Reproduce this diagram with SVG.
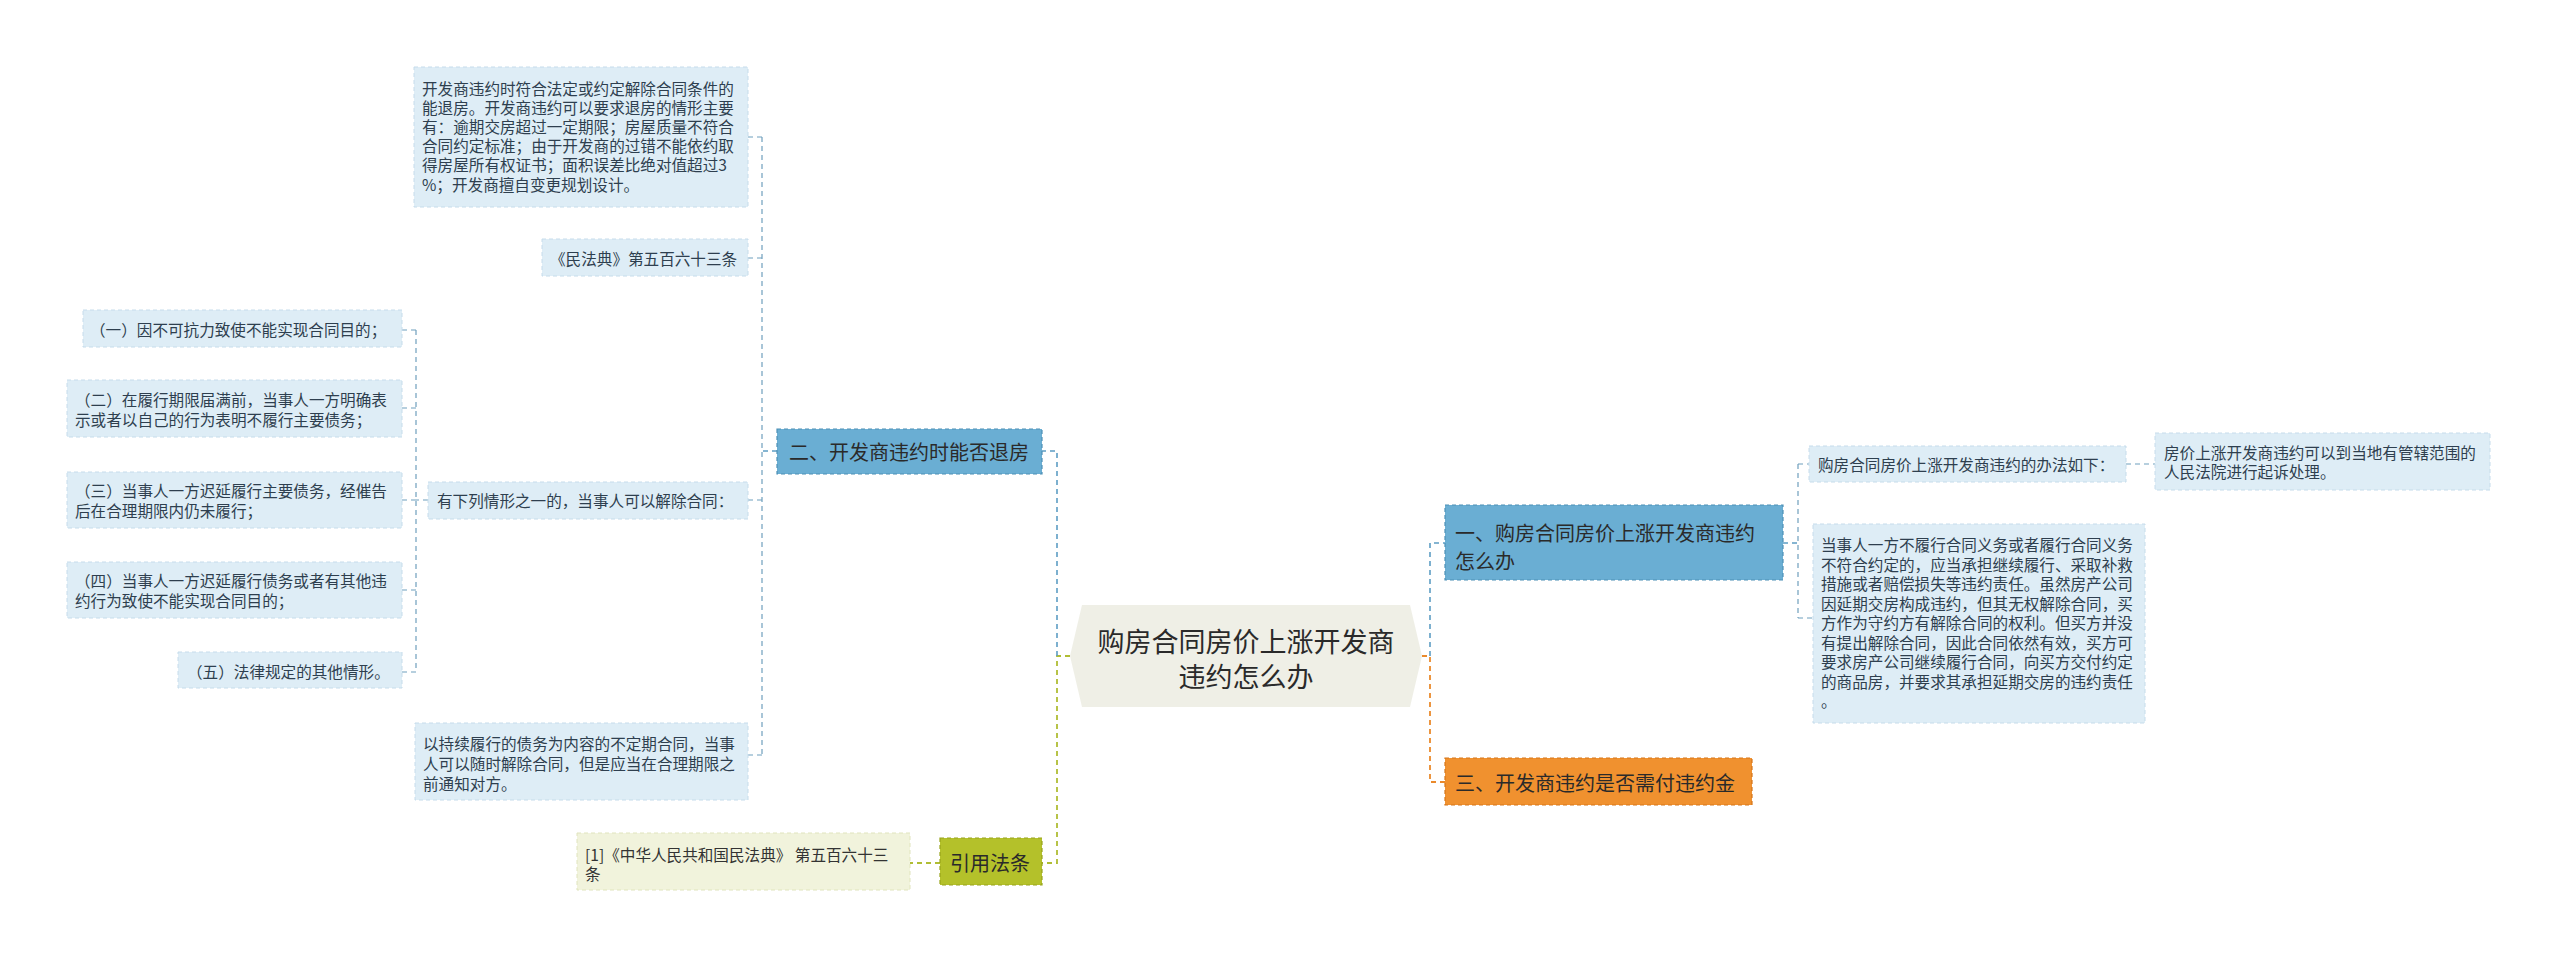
<svg xmlns="http://www.w3.org/2000/svg" width="2560" height="958" viewBox="0 0 2560 958">
<style>
text{font-family:"Noto Sans CJK SC","Liberation Sans",sans-serif;dominant-baseline:central}
.t{font-size:15.6px;fill:#2e3f4f}
.tb{font-size:20px;fill:#2a2a2a}
.tc{font-size:27px;fill:#2a2a2a}
.lb{fill:#deedf6;stroke:#c6dceb;stroke-width:1;stroke-dasharray:4 3}
.lo{fill:#f1f3dc;stroke:#e0e4bd;stroke-width:1;stroke-dasharray:4 3}
.mb{fill:#6aaed3;stroke:#4d90b6;stroke-width:1.2;stroke-dasharray:4 3}
.or{fill:#f0912f;stroke:#d5761a;stroke-width:1.2;stroke-dasharray:4 3}
.ol{fill:#b4c12a;stroke:#98a41c;stroke-width:1.2;stroke-dasharray:4 3}
.cb{fill:none;stroke:#5d9dc4;stroke-width:1.6;stroke-dasharray:5 4}
.cl{fill:none;stroke:#6f9fbd;stroke-width:1.2;stroke-dasharray:5 4}
.co{fill:none;stroke:#ea8a2c;stroke-width:1.8;stroke-dasharray:5 4}
.cg{fill:none;stroke:#b0bd34;stroke-width:1.8;stroke-dasharray:5 4}
</style>
<rect width="2560" height="958" fill="#ffffff"/>
<g id="connectors">
  <path class="cg" d="M1070 656H1057V863H1042"/>
  <path class="cb" d="M1057 656V451H1042"/>
  <path class="cg" d="M940 863H910"/>
  <path class="cb" d="M777 451H762"/>
  <path class="cl" d="M762 137V755"/>
  <path class="cl" d="M748 137H762M748 258H762M748 500H762M748 755H762"/>
  <path class="cl" d="M428 500H416M416 330V672M402 330H416M402 408H416M402 500H416M402 590H416M402 672H416"/>
  <path class="co" d="M1422 656H1430V782H1445"/>
  <path class="cb" d="M1430 656V543H1445"/>
  <path class="cb" d="M1783 543H1798"/>
  <path class="cl" d="M1798 464V618M1798 464H1809M1798 618H1813"/>
  <path class="cl" d="M2126 464H2155"/>
</g>
<g id="center">
  <polygon points="1070,656 1082,605 1410,605 1422,656 1410,707 1082,707" fill="#efefe6"/>
  <text class="tc" x="1246" y="640" text-anchor="middle">购房合同房价上涨开发商</text>
  <text class="tc" x="1246" y="675" text-anchor="middle">违约怎么办</text>
</g>
<g id="n2">
  <rect class="mb" x="777" y="429" width="265" height="45"/>
  <text class="tb" x="789" y="451">二、开发商违约时能否退房</text>
</g>
<g id="n2a">
  <rect class="lb" x="414" y="67" width="334" height="140"/>
  <text class="t" x="422" y="88">开发商违约时符合法定或约定解除合同条件的</text>
  <text class="t" x="422" y="107.1">能退房。开发商违约可以要求退房的情形主要</text>
  <text class="t" x="422" y="126.2">有：逾期交房超过一定期限；房屋质量不符合</text>
  <text class="t" x="422" y="145.3">合同约定标准；由于开发商的过错不能依约取</text>
  <text class="t" x="422" y="164.4">得房屋所有权证书；面积误差比绝对值超过3</text>
  <text class="t" x="422" y="183.5">%；开发商擅自变更规划设计。</text>
</g>
<g id="n2b">
  <rect class="lb" x="542" y="239" width="206" height="37"/>
  <text class="t" x="550" y="258">《民法典》第五百六十三条</text>
</g>
<g id="n2c">
  <rect class="lb" x="428" y="482" width="320" height="37"/>
  <text class="t" x="437" y="500">有下列情形之一的，当事人可以解除合同：</text>
</g>
<g id="n2c1">
  <rect class="lb" x="83" y="310" width="319" height="37"/>
  <text class="t" x="90" y="329">（一）因不可抗力致使不能实现合同目的；</text>
</g>
<g id="n2c2">
  <rect class="lb" x="67" y="380" width="335" height="57"/>
  <text class="t" x="75" y="399">（二）在履行期限届满前，当事人一方明确表</text>
  <text class="t" x="75" y="419">示或者以自己的行为表明不履行主要债务；</text>
</g>
<g id="n2c3">
  <rect class="lb" x="67" y="472" width="335" height="56"/>
  <text class="t" x="75" y="490">（三）当事人一方迟延履行主要债务，经催告</text>
  <text class="t" x="75" y="510">后在合理期限内仍未履行；</text>
</g>
<g id="n2c4">
  <rect class="lb" x="67" y="562" width="335" height="56"/>
  <text class="t" x="75" y="580">（四）当事人一方迟延履行债务或者有其他违</text>
  <text class="t" x="75" y="600">约行为致使不能实现合同目的；</text>
</g>
<g id="n2c5">
  <rect class="lb" x="178" y="652" width="224" height="36"/>
  <text class="t" x="187" y="671">（五）法律规定的其他情形。</text>
</g>
<g id="n2d">
  <rect class="lb" x="415" y="723" width="333" height="77"/>
  <text class="t" x="423" y="743">以持续履行的债务为内容的不定期合同，当事</text>
  <text class="t" x="423" y="763">人可以随时解除合同，但是应当在合理期限之</text>
  <text class="t" x="423" y="783">前通知对方。</text>
</g>
<g id="cite">
  <rect class="ol" x="940" y="838" width="102" height="47"/>
  <text class="tb" x="950" y="862">引用法条</text>
</g>
<g id="cite1">
  <rect class="lo" x="577" y="833" width="333" height="57"/>
  <text class="t" x="585" y="854" style="fill:#333">[1]《中华人民共和国民法典》 第五百六十三</text>
  <text class="t" x="585" y="873" style="fill:#333">条</text>
</g>
<g id="n1">
  <rect class="mb" x="1445" y="505" width="338" height="75"/>
  <text class="tb" x="1455" y="532">一、购房合同房价上涨开发商违约</text>
  <text class="tb" x="1455" y="560">怎么办</text>
</g>
<g id="n1a">
  <rect class="lb" x="1809" y="446" width="317" height="36"/>
  <text class="t" x="1818" y="464">购房合同房价上涨开发商违约的办法如下：</text>
</g>
<g id="n1a1">
  <rect class="lb" x="2155" y="433" width="335" height="57"/>
  <text class="t" x="2164" y="452">房价上涨开发商违约可以到当地有管辖范围的</text>
  <text class="t" x="2164" y="471">人民法院进行起诉处理。</text>
</g>
<g id="n1b">
  <rect class="lb" x="1813" y="524" width="332" height="199"/>
  <text class="t" x="1821" y="544">当事人一方不履行合同义务或者履行合同义务</text>
  <text class="t" x="1821" y="563.5">不符合约定的，应当承担继续履行、采取补救</text>
  <text class="t" x="1821" y="583">措施或者赔偿损失等违约责任。虽然房产公司</text>
  <text class="t" x="1821" y="602.5">因延期交房构成违约，但其无权解除合同，买</text>
  <text class="t" x="1821" y="622">方作为守约方有解除合同的权利。但买方并没</text>
  <text class="t" x="1821" y="641.5">有提出解除合同，因此合同依然有效，买方可</text>
  <text class="t" x="1821" y="661">要求房产公司继续履行合同，向买方交付约定</text>
  <text class="t" x="1821" y="680.5">的商品房，并要求其承担延期交房的违约责任</text>
  <text class="t" x="1821" y="700">。</text>
</g>
<g id="n3">
  <rect class="or" x="1445" y="758" width="307" height="47"/>
  <text class="tb" x="1455" y="782">三、开发商违约是否需付违约金</text>
</g>
</svg>
